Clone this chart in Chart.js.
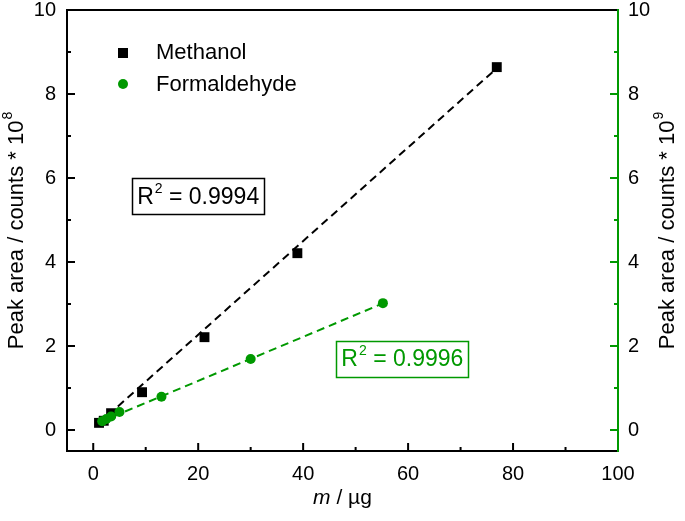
<!DOCTYPE html>
<html>
<head>
<meta charset="utf-8">
<script src="https://cdn.jsdelivr.net/npm/chart.js@4.4.1/dist/chart.umd.min.js"></script>
<style>
  html, body { margin: 0; padding: 0; background: #fff; }
  #wrap { width: 685px; height: 521px; }
</style>
</head>
<body>
<div id="wrap"><canvas id="chart" width="685" height="521"></canvas></div>
<script>
const FONT = "'Liberation Sans', Arial, Helvetica, sans-serif";
const BLACK = '#000000';
const GREEN = '#009900';

// m / µg against peak area
const methanolMass = [1.1, 2.0, 3.4, 9.3, 21.2, 38.9, 76.9];
const methanolArea = [0.17, 0.22, 0.40, 0.90, 2.21, 4.21, 8.64];      // counts * 10^8
const formaldehydeMass = [1.7, 2.5, 3.4, 5.0, 13.0, 30.0, 55.2];
const formaldehydeArea = [0.21, 0.26, 0.32, 0.43, 0.79, 1.69, 3.02];  // counts * 10^9

// linear fit end points
const methanolFitX = [1.0, 77.5];
const methanolFitY = [0.15, 8.68];
const formaldehydeFitX = [1.5, 55.5];
const formaldehydeFitY = [0.20, 3.03];

const methanolR2 = '0.9994';
const formaldehydeR2 = '0.9996';

const xTicks = [0, 20, 40, 60, 80, 100];
const xMinor = [10, 30, 50, 70, 90];
const yTicks = [0, 2, 4, 6, 8, 10];
const yMinor = [1, 3, 5, 7, 9];

const pts = (xs, ys) => xs.map((x, i) => ({ x: x, y: ys[i] }));

// text with a raised exponent, starting at x (left aligned, middle baseline)
function supText(ctx, x, y, base, sup, rest, size, color) {
    ctx.fillStyle = color;
    ctx.textAlign = 'left';
    ctx.textBaseline = 'middle';
    ctx.font = size + 'px ' + FONT;
    ctx.fillText(base, x, y);
    let w = ctx.measureText(base).width;
    ctx.font = Math.round(size * 0.62) + 'px ' + FONT;
    ctx.fillText(sup, x + w + 1, y - size * 0.38);
    w += ctx.measureText(sup).width + 1;
    ctx.font = size + 'px ' + FONT;
    if (rest) ctx.fillText(rest, x + w, y);
    return w + (rest ? ctx.measureText(rest).width : 0);
}

function supWidth(ctx, base, sup, rest, size) {
    ctx.font = size + 'px ' + FONT;
    let w = ctx.measureText(base).width + ctx.measureText(rest || '').width + 1;
    ctx.font = Math.round(size * 0.62) + 'px ' + FONT;
    return w + ctx.measureText(sup).width;
}

function rotatedTitle(ctx, cx, cy, base, sup, size) {
    ctx.save();
    ctx.translate(cx, cy);
    ctx.rotate(-Math.PI / 2);
    const w = supWidth(ctx, base, sup, '', size);
    supText(ctx, -w / 2, 0, base, sup, '', size, BLACK);
    ctx.restore();
}

function r2Box(ctx, cx, cy, value, color) {
    const size = 23;
    const w = supWidth(ctx, 'R', '2', ' = ' + value, size);
    const bw = w + 10, bh = 36;
    ctx.save();
    ctx.strokeStyle = color;
    ctx.lineWidth = 1.5;
    ctx.strokeRect(Math.round(cx - bw / 2) + 0.5, Math.round(cy - bh / 2) + 0.5, Math.round(bw), bh);
    supText(ctx, cx - w / 2, cy + 1, 'R', '2', ' = ' + value, size, color);
    ctx.restore();
}

const decorations = {
    id: 'decorations',
    afterDatasetsDraw(chart) {
        const ctx = chart.ctx;
        const a = chart.chartArea;
        const x = chart.scales.x, y = chart.scales.y, y2 = chart.scales.y2;
        ctx.save();

        // inward tick marks
        ctx.lineWidth = 2;
        ctx.strokeStyle = BLACK;
        ctx.beginPath();
        xTicks.forEach(v => { const p = x.getPixelForValue(v); ctx.moveTo(p, a.bottom); ctx.lineTo(p, a.bottom - 8); });
        xMinor.forEach(v => { const p = x.getPixelForValue(v); ctx.moveTo(p, a.bottom); ctx.lineTo(p, a.bottom - 4); });
        yTicks.forEach(v => { const p = y.getPixelForValue(v); ctx.moveTo(a.left, p); ctx.lineTo(a.left + 8, p); });
        yMinor.forEach(v => { const p = y.getPixelForValue(v); ctx.moveTo(a.left, p); ctx.lineTo(a.left + 4, p); });
        ctx.stroke();
        ctx.strokeStyle = GREEN;
        ctx.beginPath();
        yTicks.forEach(v => { const p = y2.getPixelForValue(v); ctx.moveTo(a.right, p); ctx.lineTo(a.right - 8, p); });
        yMinor.forEach(v => { const p = y2.getPixelForValue(v); ctx.moveTo(a.right, p); ctx.lineTo(a.right - 4, p); });
        ctx.stroke();

        // frame
        ctx.strokeStyle = BLACK;
        ctx.beginPath();
        ctx.moveTo(a.right, a.top);
        ctx.lineTo(a.left, a.top);
        ctx.lineTo(a.left, a.bottom);
        ctx.lineTo(a.right, a.bottom);
        ctx.stroke();
        ctx.strokeStyle = GREEN;
        ctx.beginPath();
        ctx.moveTo(a.right, a.top - 1);
        ctx.lineTo(a.right, a.bottom + 1);
        ctx.stroke();

        // legend
        ctx.fillStyle = BLACK;
        ctx.fillRect(118, 48, 10, 10);
        ctx.fillStyle = GREEN;
        ctx.beginPath();
        ctx.arc(123, 84, 5, 0, Math.PI * 2);
        ctx.fill();
        ctx.font = '22px ' + FONT;
        ctx.textAlign = 'left';
        ctx.textBaseline = 'middle';
        ctx.fillStyle = BLACK;
        ctx.fillText('Methanol', 156, 53);
        ctx.fillText('Formaldehyde', 156, 85);

        // R² boxes
        r2Box(ctx, x.getPixelForValue(20.0), y.getPixelForValue(5.56), methanolR2, BLACK);
        r2Box(ctx, x.getPixelForValue(58.9), y.getPixelForValue(1.70), formaldehydeR2, GREEN);

        // axis titles
        rotatedTitle(ctx, 17, (a.top + a.bottom) / 2, 'Peak area / counts * 10', '8', 22);
        rotatedTitle(ctx, 668, (a.top + a.bottom) / 2, 'Peak area / counts * 10', '9', 22);

        ctx.fillStyle = BLACK;
        ctx.textBaseline = 'middle';
        ctx.textAlign = 'left';
        ctx.font = 'italic 21px ' + FONT;
        const mW = ctx.measureText('m').width;
        ctx.font = '21px ' + FONT;
        const restW = ctx.measureText(' / µg').width;
        const sx = (a.left + a.right) / 2 - (mW + restW) / 2;
        ctx.font = 'italic 21px ' + FONT;
        ctx.fillText('m', sx, 498);
        ctx.font = '21px ' + FONT;
        ctx.fillText(' / µg', sx + mW, 498);

        ctx.restore();
    }
};

const tickFont = { family: FONT, size: 20, lineHeight: 1.0 };
// keep tick-label overflow from pushing the plot frame down
const noPad = s => { s.paddingTop = 0; s.paddingBottom = 0; };

new Chart(document.getElementById('chart'), {
    type: 'scatter',
    data: {
        datasets: [
            {
                label: 'Formaldehyde',
                data: pts(formaldehydeMass, formaldehydeArea),
                yAxisID: 'y2',
                pointStyle: 'circle',
                pointRadius: 5,
                backgroundColor: GREEN,
                borderColor: GREEN,
                borderWidth: 0,
            },
            {
                label: 'Methanol',
                data: pts(methanolMass, methanolArea),
                yAxisID: 'y',
                pointStyle: 'rect',
                pointRadius: 7,
                backgroundColor: BLACK,
                borderColor: BLACK,
                borderWidth: 0,
            },
            {
                label: 'Formaldehyde fit',
                type: 'line',
                data: pts(formaldehydeFitX, formaldehydeFitY),
                yAxisID: 'y2',
                borderColor: GREEN,
                borderWidth: 2,
                borderDash: [8, 5],
                pointRadius: 0,
                fill: false,
            },
            {
                label: 'Methanol fit',
                type: 'line',
                data: pts(methanolFitX, methanolFitY),
                yAxisID: 'y',
                borderColor: BLACK,
                borderWidth: 2,
                borderDash: [8, 5],
                pointRadius: 0,
                fill: false,
            },
        ],
    },
    options: {
        responsive: false,
        animation: false,
        layout: { padding: { top: 10, right: 0, bottom: 0, left: 0 } },
        scales: {
            x: {
                type: 'linear',
                position: 'bottom',
                min: -5,
                max: 100,
                afterBuildTicks: s => { s.ticks = xTicks.map(v => ({ value: v })); },
                afterFit: s => { s.height = 70; },
                ticks: { font: tickFont, color: BLACK, padding: 13, maxRotation: 0 },
                grid: { display: false, drawTicks: false },
                border: { display: false },
            },
            y: {
                type: 'linear',
                position: 'left',
                min: -0.5,
                max: 10,
                afterBuildTicks: s => { s.ticks = yTicks.map(v => ({ value: v })); },
                afterFit: s => { s.width = 67; noPad(s); },
                ticks: { font: tickFont, color: BLACK, padding: 11 },
                grid: { display: false, drawTicks: false },
                border: { display: false },
            },
            y2: {
                type: 'linear',
                position: 'right',
                min: -0.5,
                max: 10,
                afterBuildTicks: s => { s.ticks = yTicks.map(v => ({ value: v })); },
                afterFit: s => { s.width = 67; noPad(s); },
                ticks: { font: tickFont, color: BLACK, padding: 10 },
                grid: { display: false, drawTicks: false },
                border: { display: false },
            },
        },
        plugins: {
            legend: { display: false },
            tooltip: { enabled: false },
        },
    },
    plugins: [decorations],
});
</script>
</body>
</html>
